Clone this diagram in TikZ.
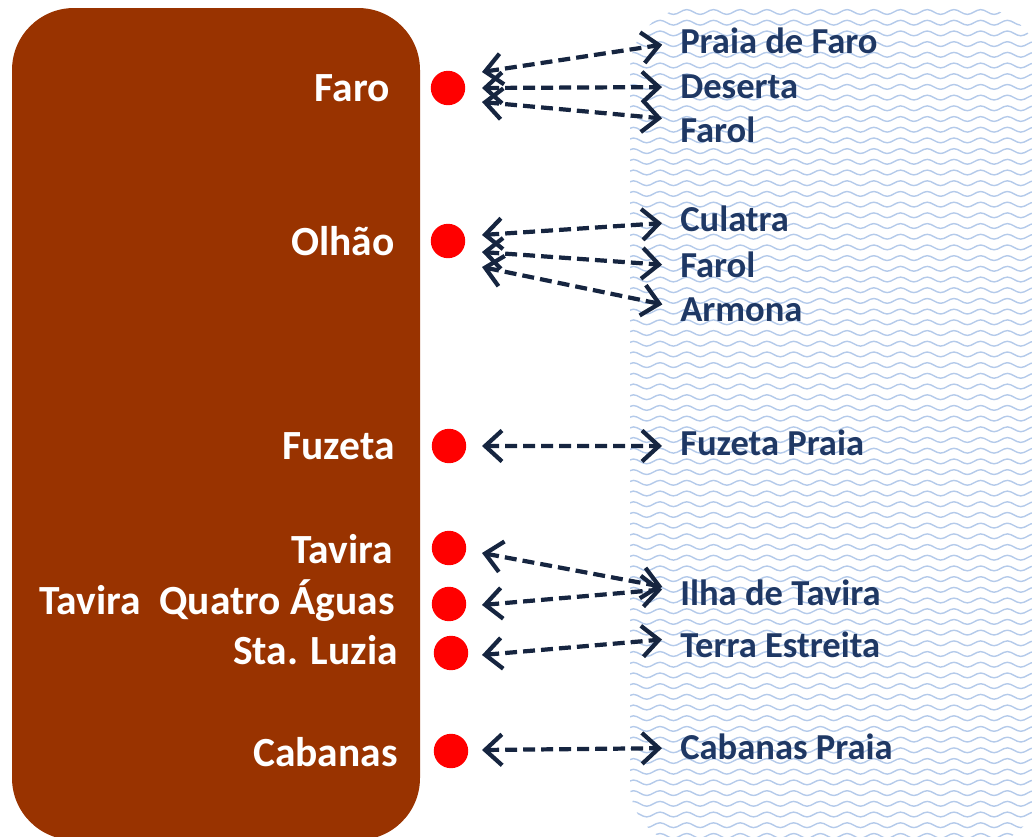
\documentclass[tikz,border=0pt]{standalone}
\usepackage{fontspec}
\setmainfont{Carlito}
\usepackage{tikz}
\usetikzlibrary{arrows.meta, decorations.pathmorphing, positioning}

\definecolor{land}{RGB}{153,51,0}
\definecolor{wave}{RGB}{180,202,234}
\definecolor{ink}{RGB}{31,56,100}
\definecolor{arrowink}{RGB}{22,37,64}

\begin{document}
\begin{tikzpicture}[x=0.025cm, y=-0.025cm,
  font=\bfseries,
  town/.style={text=white, anchor=east, inner sep=0pt, font=\bfseries\fontsize{29.5}{32}\selectfont,
    text height=19pt, text depth=0.5pt},
  beach/.style={text=ink, anchor=west, inner sep=0pt, font=\bfseries\fontsize{26}{30}\selectfont,
    text height=17pt, text depth=0.5pt},
  stop/.style={shape=circle, fill=red, inner sep=0pt, minimum size=0.86cm},
  link/.style={draw=arrowink, line width=3pt, dash pattern=on 8.5pt off 4.3pt,
    {Straight Barb[length=12pt, width=22pt]}-{Straight Barb[length=12pt, width=22pt]},
    shorten >=0.45cm}
]
\useasboundingbox (0,0) rectangle (1032,836);

%------------- Mainland
	\fill[land, rounded corners=1.55cm] (12,8) rectangle (420,840);

	\node[town] (Faro) at (390, 88) {Faro};
	\node[town] (Olhao) at (395, 242) {Olhão};
	\node[town] (Fuzeta) at (395, 446) {Fuzeta};
	\node[town] (Tavira) at (393, 550) {Tavira};
	\node[town] (QuatroAguas) at (395, 601) {Tavira\ \ Quatro Águas};
	\node[town] (StaLuzia) at (398, 651) {Sta. Luzia};
	\node[town] (Cabanas) at (398, 753) {Cabanas};

%------------- Sea
	\begin{scope}
	\clip[rounded corners=1.55cm] (630,8) rectangle (1040,846);
	\foreach \r in {0,...,78}
		\draw[wave, line width=1pt, decorate, decoration={snake, amplitude=1.7pt, segment length=19pt}]
			(625, 12+10.7*\r) -- (1045, 12+10.7*\r);
	\end{scope}

	\node[beach] (PraiaFaro) at (680, 42) {Praia de Faro};
	\node[beach] (Deserta) at (680, 87) {Deserta};
	\node[beach] (FarolA) at (680, 131) {Farol};
	\node[beach] (Culatra) at (680, 220) {Culatra};
	\node[beach] (FarolB) at (680, 266) {Farol};
	\node[beach] (Armona) at (680, 310) {Armona};
	\node[beach] (FuzetaPraia) at (680, 444) {Fuzeta Praia};
	\node[beach] (IlhaTavira) at (680, 594) {Ilha de Tavira};
	\node[beach] (TerraEstreita) at (680, 646) {Terra Estreita};
	\node[beach] (CabanasPraia) at (680, 748) {Cabanas Praia};

%------------- Stops
	\node[stop] (Faro_Stop) at (448, 88) {};
	\node[stop] (Olhao_Stop) at (448, 241) {};
	\node[stop] (Fuzeta_Stop) at (449, 446) {};
	\node[stop] (Tavira_Stop) at (449, 548) {};
	\node[stop] (QuatroAguas_Stop) at (449, 604) {};
	\node[stop] (StaLuzia_Stop) at (451, 653) {};
	\node[stop] (Cabanas_Stop) at (451, 751) {};

%------------- Ferries
	\coordinate (Faro_A) at (482, 72);
	\coordinate (Faro_B) at (482, 88);
	\coordinate (Faro_C) at (482, 102);
	\coordinate (Olhao_A) at (482, 235);
	\coordinate (Olhao_B) at (482, 252);
	\coordinate (Olhao_C) at (482, 267);
	\coordinate (Fuzeta_A) at (482, 446);
	\coordinate (Tavira_A) at (482, 553);
	\coordinate (QuatroAguas_A) at (482, 605);
	\coordinate (StaLuzia_A) at (482, 655);
	\coordinate (Cabanas_A) at (482, 750);

	\draw[link] (Faro_A) -- (PraiaFaro.west);
	\draw[link] (Faro_B) -- (Deserta.west);
	\draw[link] (Faro_C) -- ([yshift=7.8pt]FarolA.west);

	\draw[link] (Olhao_A) -- ([yshift=-1.4pt]Culatra.west);
	\draw[link] (Olhao_B) -- (FarolB.west);
	\draw[link] (Olhao_C) -- ([yshift=1.4pt]Armona.west);

	\draw[link] (Fuzeta_A) -- ([yshift=-1.4pt]FuzetaPraia.west);

	\draw[link] (Tavira_A) -- ([yshift=2.8pt]IlhaTavira.west);
	\draw[link] (QuatroAguas_A) -- ([yshift=4.3pt]IlhaTavira.west);
	\draw[link] (StaLuzia_A) -- ([yshift=5.7pt]TerraEstreita.west);

	\draw[link] (Cabanas_A) -- (CabanasPraia.west);

\end{tikzpicture}
\end{document}
